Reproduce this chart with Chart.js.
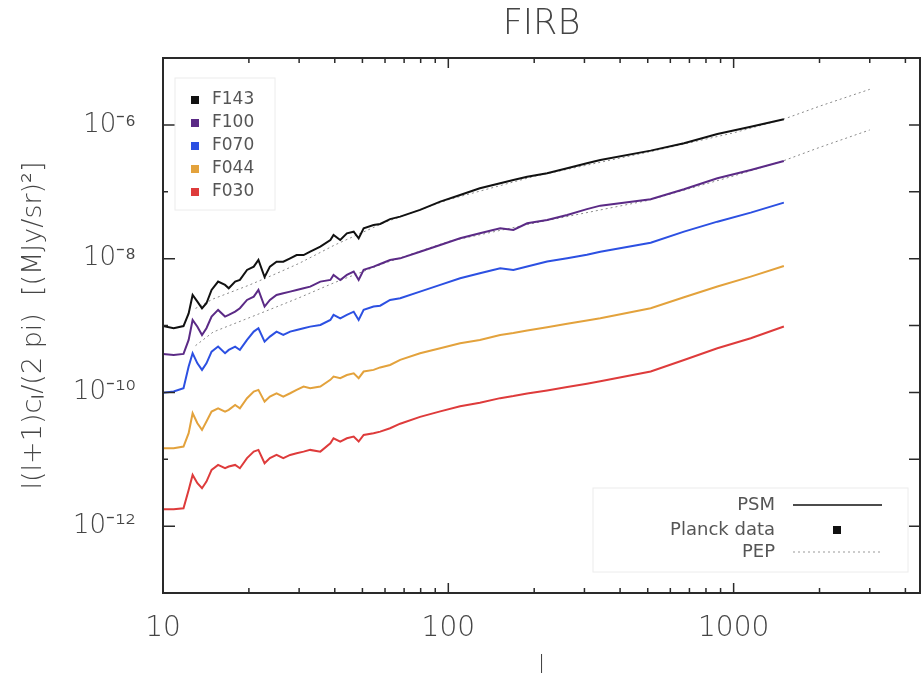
<!DOCTYPE html>
<html>
<head>
<meta charset="utf-8">
<title>FIRB</title>
<script src="https://cdn.jsdelivr.net/npm/chart.js@4.4.0/dist/chart.umd.min.js"></script>
<style>
  html, body { margin: 0; padding: 0; background: #fff; }
  #firbChart { display: block; }
</style>
</head>
<body>
<canvas id="firbChart" width="921" height="681"></canvas>
<script>
// multipoles shared by the PSM curves
const multipoles = [10, 10.9, 11.8, 12.3, 12.7, 13.2, 13.7, 14.2, 14.8, 15.6, 16.5, 17.0, 17.9, 18.6, 19.7, 20.8, 21.6, 22.7, 23.7, 25.0,
    26.4, 27.9, 29.4, 31.1, 32.8, 35.6, 38.6, 39.6, 41.8, 44.1, 46.6, 48.5, 50.5, 54.7, 57.7, 62.5, 67.8, 79.6, 93.7, 110,
    129, 152, 169, 189, 222, 261, 306, 341, 512, 670, 877, 1148, 1500];

const psmF143 = [9.8e-10, 9.1e-10, 9.8e-10, 1.52e-9, 2.86e-9, 2.28e-9, 1.81e-9, 2.15e-9, 3.4e-9, 4.53e-9, 4.04e-9, 3.6e-9, 4.53e-9, 4.8e-9, 6.77e-9, 7.59e-9, 9.55e-9, 5.3e-9, 7.6e-9, 9.0e-9,
    9.0e-9, 1.01e-8, 1.13e-8, 1.13e-8, 1.27e-8, 1.51e-8, 1.9e-8, 2.26e-8, 1.9e-8, 2.39e-8, 2.53e-8, 2.01e-8, 2.84e-8, 3.19e-8, 3.3e-8, 3.9e-8, 4.25e-8, 5.35e-8, 7.13e-8, 8.96e-8,
    1.13e-7, 1.34e-7, 1.5e-7, 1.68e-7, 1.89e-7, 2.24e-7, 2.67e-7, 2.99e-7, 4.12e-7, 5.3e-7, 7.31e-7, 9.4e-7, 1.21e-6];

const psmF100 = [3.76e-10, 3.63e-10, 3.76e-10, 6.08e-10, 1.21e-9, 9.6e-10, 7.22e-10, 9.1e-10, 1.36e-9, 1.71e-9, 1.36e-9, 1.44e-9, 1.61e-9, 1.81e-9, 2.41e-9, 2.7e-9, 3.4e-9, 1.92e-9, 2.41e-9, 2.86e-9,
    3.03e-9, 3.21e-9, 3.4e-9, 3.6e-9, 3.81e-9, 4.53e-9, 4.8e-9, 5.7e-9, 4.8e-9, 5.7e-9, 6.4e-9, 4.8e-9, 6.78e-9, 7.59e-9, 8.3e-9, 9.55e-9, 1.01e-8, 1.27e-8, 1.6e-8, 2.02e-8,
    2.39e-8, 2.84e-8, 2.69e-8, 3.38e-8, 3.79e-8, 4.5e-8, 5.5e-8, 6.2e-8, 7.71e-8, 1.09e-7, 1.59e-7, 2.12e-7, 2.89e-7];

const psmF070 = [9.9e-11, 1.03e-10, 1.15e-10, 2.43e-10, 3.85e-10, 2.72e-10, 2.17e-10, 2.72e-10, 4.07e-10, 4.84e-10, 3.85e-10, 4.31e-10, 4.84e-10, 4.31e-10, 6.08e-10, 8.11e-10, 9.1e-10, 5.74e-10, 6.82e-10, 8.11e-10,
    7.23e-10, 8.11e-10, 8.59e-10, 9.1e-10, 9.62e-10, 1.02e-9, 1.21e-9, 1.44e-9, 1.28e-9, 1.44e-9, 1.61e-9, 1.21e-9, 1.71e-9, 1.92e-9, 1.98e-9, 2.41e-9, 2.56e-9, 3.21e-9, 4.05e-9, 5.09e-9,
    6.04e-9, 7.18e-9, 6.78e-9, 7.6e-9, 9.03e-9, 1.01e-8, 1.14e-8, 1.27e-8, 1.73e-8, 2.53e-8, 3.57e-8, 4.87e-8, 6.88e-8];

const psmF044 = [1.46e-11, 1.46e-11, 1.55e-11, 2.45e-11, 4.88e-11, 3.45e-11, 2.75e-11, 3.66e-11, 5.16e-11, 5.79e-11, 5.16e-11, 5.47e-11, 6.49e-11, 5.79e-11, 8.17e-11, 1.03e-10, 1.09e-10, 7.28e-11, 8.65e-11, 9.7e-11,
    8.65e-11, 9.7e-11, 1.09e-10, 1.22e-10, 1.15e-10, 1.22e-10, 1.54e-10, 1.72e-10, 1.63e-10, 1.82e-10, 1.93e-10, 1.63e-10, 2.05e-10, 2.17e-10, 2.36e-10, 2.57e-10, 3.06e-10, 3.85e-10, 4.57e-10, 5.43e-10,
    6.09e-10, 7.23e-10, 7.7e-10, 8.4e-10, 9.4e-10, 1.06e-9, 1.19e-9, 1.28e-9, 1.81e-9, 2.64e-9, 3.82e-9, 5.38e-9, 7.77e-9];

const psmF030 = [1.79e-12, 1.79e-12, 1.85e-12, 3.48e-12, 5.83e-12, 4.38e-12, 3.69e-12, 4.64e-12, 6.93e-12, 8.23e-12, 7.34e-12, 7.78e-12, 8.23e-12, 7.34e-12, 1.04e-11, 1.3e-11, 1.38e-11, 8.71e-12, 1.04e-11, 1.16e-11,
    1.04e-11, 1.16e-11, 1.23e-11, 1.3e-11, 1.38e-11, 1.3e-11, 1.73e-11, 2.06e-11, 1.84e-11, 2.06e-11, 2.18e-11, 1.84e-11, 2.31e-11, 2.45e-11, 2.59e-11, 2.91e-11, 3.4e-11, 4.3e-11, 5.2e-11, 6.2e-11,
    7.0e-11, 8.2e-11, 8.8e-11, 9.6e-11, 1.07e-10, 1.2e-10, 1.35e-10, 1.47e-10, 2.05e-10, 3.05e-10, 4.57e-10, 6.44e-10, 9.64e-10];

// PEP model (dotted), only two channels
const pepMultipoles = [13, 15, 20, 25, 30, 40, 60, 100, 200, 500, 1000, 1500, 2000, 3000];
const pepF143 = [1.8e-9, 2.5e-9, 4.0e-9, 6.0e-9, 8.5e-9, 1.6e-8, 3.5e-8, 7.6e-8, 1.7e-7, 3.9e-7, 7.6e-7, 1.22e-6, 1.9e-6, 3.4e-6];
const pepF100 = [5.0e-10, 8.0e-10, 1.3e-9, 1.9e-9, 2.6e-9, 4.4e-9, 8.6e-9, 1.8e-8, 3.4e-8, 7.4e-8, 1.72e-7, 2.92e-7, 4.6e-7, 8.4e-7];

const channelNames = ['F143', 'F100', 'F070', 'F044', 'F030'];
const channelColors = ['#111111', '#5b2a86', '#2c50e2', '#e3a23c', '#de3b3b'];
const xTickValues = [10, 100, 1000];
const yTickValues = [1e-12, 1e-10, 1e-8, 1e-6];
const yTickLabels = ['10⁻¹²', '10⁻¹⁰', '10⁻⁸', '10⁻⁶'];
const bottomLegendLabels = ['PSM', 'Planck data', 'PEP'];

const FONT = "'DejaVu Sans', 'Liberation Sans', sans-serif";
const TEXT_COLOR = '#454545';
const AXIS_COLOR = '#2a2a2a';

function toPoints(xs, ys) {
    return xs.map((x, i) => ({ x: x, y: ys[i] }));
}

const psmSeries = [psmF143, psmF100, psmF070, psmF044, psmF030];

const datasets = psmSeries.map((values, i) => ({
    label: channelNames[i],
    data: toPoints(multipoles, values),
    borderColor: channelColors[i],
    borderWidth: 2,
    pointRadius: 0,
    tension: 0
}));

datasets.push({
    label: 'PEP F143',
    data: toPoints(pepMultipoles, pepF143),
    borderColor: '#8a8a8a',
    borderWidth: 1,
    borderDash: [2, 3],
    pointRadius: 0
});
datasets.push({
    label: 'PEP F100',
    data: toPoints(pepMultipoles, pepF100),
    borderColor: '#8a8a8a',
    borderWidth: 1,
    borderDash: [2, 3],
    pointRadius: 0
});

// frame, inward IDL-style ticks and the two legend boxes
const idlFrame = {
    id: 'idlFrame',
    afterDraw(chart) {
        const ctx = chart.ctx;
        const area = chart.chartArea;
        const xs = chart.scales.x;
        const ys = chart.scales.y;
        ctx.save();

        ctx.strokeStyle = AXIS_COLOR;
        ctx.lineWidth = 2;
        ctx.strokeRect(area.left, area.top, area.right - area.left, area.bottom - area.top);

        // x ticks, bottom and top
        ctx.lineWidth = 1.5;
        for (let d = 10; d <= xs.max; d *= 10) {
            for (let m = 1; m < 10; m++) {
                const v = d * m;
                if (v < xs.min || v > xs.max) continue;
                const px = xs.getPixelForValue(v);
                const len = m === 1 ? 10 : 5;
                ctx.beginPath();
                ctx.moveTo(px, area.bottom);
                ctx.lineTo(px, area.bottom - len);
                ctx.moveTo(px, area.top);
                ctx.lineTo(px, area.top + len);
                ctx.stroke();
            }
        }

        // y ticks, one per decade
        for (let e = -13; e <= -5; e++) {
            const v = Math.pow(10, e);
            const py = ys.getPixelForValue(v);
            const major = yTickValues.some(t => Math.abs(Math.log10(t) - e) < 1e-6);
            ctx.beginPath();
            ctx.moveTo(area.left, py);
            ctx.lineTo(area.left + (major ? 12 : 5), py);
            ctx.moveTo(area.right, py);
            ctx.lineTo(area.right - 11, py);
            ctx.stroke();
        }

        // channel legend, top left
        const lx = area.left + 12;
        const ly = area.top + 20;
        ctx.strokeStyle = '#ececec';
        ctx.lineWidth = 1;
        ctx.strokeRect(lx, ly, 100, 132);
        ctx.font = '17px ' + FONT;
        ctx.textAlign = 'left';
        ctx.textBaseline = 'middle';
        channelNames.forEach((name, i) => {
            const cy = ly + 22 + i * 23;
            ctx.fillStyle = channelColors[i];
            ctx.fillRect(lx + 16, cy - 4, 8, 8);
            ctx.fillStyle = '#555';
            ctx.fillText(name, lx + 37, cy);
        });

        // model legend, bottom right
        const bx = area.right - 327;
        const by = area.bottom - 105;
        ctx.strokeStyle = '#ececec';
        ctx.strokeRect(bx, by, 315, 84);
        ctx.textAlign = 'right';
        ctx.font = '18px ' + FONT;
        const textRight = bx + 182;
        const rowY = [by + 17, by + 42, by + 64];
        bottomLegendLabels.forEach((txt, i) => {
            ctx.fillStyle = '#555';
            ctx.fillText(txt, textRight, rowY[i]);
        });
        ctx.strokeStyle = '#111';
        ctx.lineWidth = 1.6;
        ctx.beginPath();
        ctx.moveTo(bx + 200, rowY[0]);
        ctx.lineTo(bx + 289, rowY[0]);
        ctx.stroke();
        ctx.fillStyle = '#111';
        ctx.fillRect(bx + 240, rowY[1] - 4, 8, 8);
        ctx.strokeStyle = '#999';
        ctx.lineWidth = 1;
        ctx.setLineDash([2, 3]);
        ctx.beginPath();
        ctx.moveTo(bx + 200, rowY[2]);
        ctx.lineTo(bx + 289, rowY[2]);
        ctx.stroke();
        ctx.setLineDash([]);

        ctx.restore();
    }
};

new Chart(document.getElementById('firbChart'), {
    type: 'line',
    data: { datasets: datasets },
    plugins: [idlFrame],
    options: {
        responsive: false,
        animation: false,
        devicePixelRatio: 1,
        layout: { padding: { left: 0, right: 1, top: 0, bottom: 0 } },
        plugins: {
            legend: { display: false },
            tooltip: { enabled: false },
            title: {
                display: true,
                fullSize: false,
                text: 'FIRB',
                color: TEXT_COLOR,
                font: { family: FONT, size: 35, weight: '300' },
                padding: { top: 4, bottom: 12 }
            }
        },
        scales: {
            x: {
                type: 'logarithmic',
                min: 10,
                max: 4500,
                grid: { display: false, drawTicks: false },
                border: { display: false },
                afterBuildTicks: scale => {
                    scale.ticks = xTickValues.map(v => ({ value: v }));
                },
                afterFit: scale => { scale.height = 88; },
                ticks: {
                    color: TEXT_COLOR,
                    padding: 19,
                    maxRotation: 0,
                    font: { family: FONT, size: 28, weight: '300' },
                    callback: value => String(value)
                },
                title: {
                    display: true,
                    text: 'l',
                    color: TEXT_COLOR,
                    font: { family: FONT, size: 24, weight: '300' },
                    padding: { top: 0, bottom: 0 }
                }
            },
            y: {
                type: 'logarithmic',
                min: 1e-13,
                max: 1e-5,
                grid: { display: false, drawTicks: false },
                border: { display: false },
                afterBuildTicks: scale => {
                    scale.ticks = yTickValues.map(v => ({ value: v }));
                },
                afterFit: scale => { scale.width = 163; },
                ticks: {
                    color: TEXT_COLOR,
                    padding: 27,
                    font: { family: FONT, size: 26, weight: '300' },
                    callback: (value, index) => yTickLabels[index]
                },
                title: {
                    display: true,
                    text: 'l(l+1)cₗ/(2 pi)  [(MJy/sr)²]',
                    color: TEXT_COLOR,
                    font: { family: FONT, size: 27, weight: '300' },
                    padding: { top: 18, bottom: 0 }
                }
            }
        }
    }
});
</script>
</body>
</html>
